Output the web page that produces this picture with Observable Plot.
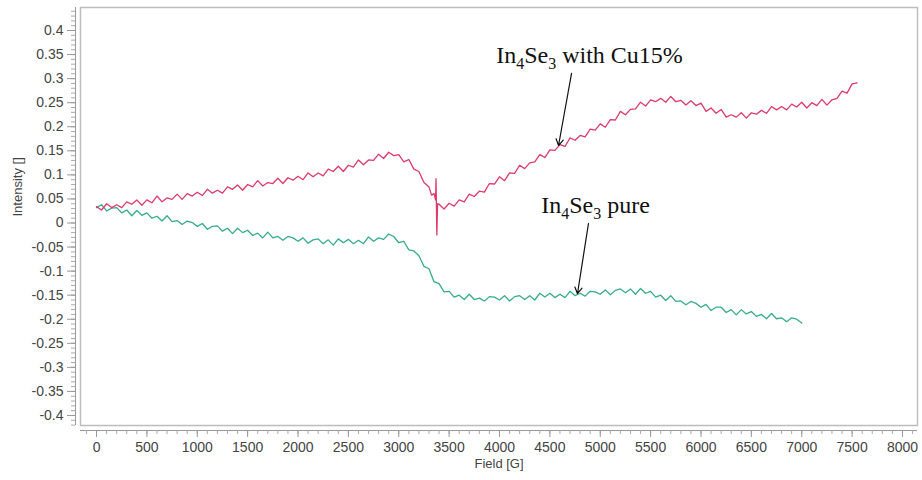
<!DOCTYPE html>
<html><head><meta charset="utf-8">
<script src="https://cdn.jsdelivr.net/npm/d3@7"></script>
<script src="https://cdn.jsdelivr.net/npm/@observablehq/plot@0.6"></script>
<style>body{margin:0;background:#fff}</style>
</head><body><div id="chart"></div>
<script>
// ---- data ----
const redField = d3.range(0, 3301, 50).concat([3325, 3350, 3365, 3370, 3378, 3385], d3.range(3400, 7551, 50));
const redIntensity = [
  .034,.027,.040,.032,.038,.032,.044,.039,.048,.037,
  .048,.042,.056,.044,.052,.049,.060,.049,.061,.056,
  .064,.057,.070,.062,.068,.062,.075,.070,.079,.068,
  .080,.075,.088,.077,.084,.082,.093,.082,.094,.089,
  .097,.090,.104,.096,.104,.098,.112,.107,.118,.107,
  .120,.116,.131,.121,.131,.130,.143,.134,.147,.140,
  .142,.127,.132,.112,.107,.084,.075,
  .058,.061,.048,.092,-.025,.040,
  .039,.029,.041,.035,.048,.044,.060,.055,.066,.064,
  .082,.081,.096,.088,.104,.103,.120,.113,.125,.127,
  .142,.136,.152,.151,.163,.159,.177,.172,.182,.179,
  .195,.193,.206,.199,.215,.214,.232,.225,.236,.237,
  .251,.243,.256,.252,.259,.251,.263,.252,.255,.245,
  .254,.244,.249,.232,.239,.228,.236,.220,.225,.220,
  .229,.218,.229,.226,.234,.228,.242,.235,.242,.235,
  .247,.241,.251,.239,.250,.244,.257,.245,.256,.259,
  .274,.270,.289,.291
];
const greenField = d3.range(0, 7001, 50);
const greenIntensity = [
  .032,.038,.025,.031,.032,.021,.027,.015,.026,.016,
  .021,.010,.014,.004,.015,.003,.005,-.003,.004,.001,
  -.007,-.001,-.013,-.007,-.006,-.017,-.011,-.022,-.011,-.020,
  -.015,-.026,-.021,-.031,-.019,-.031,-.028,-.036,-.028,-.031,
  -.038,-.031,-.042,-.035,-.033,-.043,-.035,-.046,-.033,-.041,
  -.034,-.043,-.036,-.043,-.029,-.038,-.031,-.034,-.023,-.028,
  -.041,-.038,-.056,-.058,-.068,-.090,-.095,-.122,-.126,-.143,
  -.142,-.154,-.150,-.159,-.148,-.159,-.156,-.162,-.153,-.154,
  -.160,-.151,-.162,-.153,-.151,-.159,-.151,-.160,-.146,-.154,
  -.146,-.155,-.148,-.155,-.142,-.151,-.146,-.152,-.142,-.143,
  -.148,-.139,-.149,-.140,-.137,-.145,-.137,-.148,-.136,-.146,
  -.142,-.154,-.150,-.161,-.151,-.163,-.162,-.170,-.163,-.167,
  -.175,-.169,-.182,-.175,-.175,-.186,-.180,-.191,-.180,-.189,
  -.184,-.194,-.190,-.199,-.188,-.199,-.197,-.205,-.197,-.200,
  -.208
];
const xTicks = [0,500,1000,1500,2000,2500,3000,3500,4000,4500,5000,5500,6000,6500,7000,7500,8000];
const yTicks = [-0.4,-0.35,-0.3,-0.25,-0.2,-0.15,-0.1,-0.05,0,0.05,0.1,0.15,0.2,0.25,0.3,0.35,0.4];
const xMinor = d3.range(-100, 8101, 100);
const yMinor = d3.range(-42, 45, 1).map(v => v / 100);

const labelText = ["In4Se3 with Cu15%", "In4Se3 pure"];
const labelField = [4893, 4953];
const labelIntensity = [0.348, 0.036];
const arrowField1 = [4715, 4883];
const arrowIntensity1 = [0.311, -0.001];
const arrowField2 = [4586, 4774];
const arrowIntensity2 = [0.161, -0.147];

const xDomain = [-159, 8149];
const yDomain = [-0.4208, 0.4478];

if (redField.length !== redIntensity.length) console.error("red length", redField.length, redIntensity.length);
if (greenField.length !== greenIntensity.length) console.error("green length", greenField.length, greenIntensity.length);

const redRows = redField.map((f, i) => ({field: f, intensity: redIntensity[i]}));
const greenRows = greenField.map((f, i) => ({field: f, intensity: greenIntensity[i]}));
const labels = labelText.map((t, i) => ({t, x: labelField[i], y: labelIntensity[i]}));
const arrows = arrowField1.map((x1, i) => ({x1, y1: arrowIntensity1[i], x2: arrowField2[i], y2: arrowIntensity2[i]}));

const fmtY = d => String(Math.round(d * 100) / 100);
const fmtX = d => String(d);

const plot = Plot.plot({
  width: 922,
  height: 480,
  marginLeft: 80,
  marginRight: 5,
  marginTop: 7,
  marginBottom: 55,
  style: {fontFamily: "'Liberation Sans', Arial, sans-serif", fontSize: "14px", background: "#fff"},
  x: {domain: xDomain, axis: null},
  y: {domain: yDomain, axis: null},
  marks: [
    Plot.frame({stroke: "#bdbdbd", strokeWidth: 1.5}),
    // y axis
    Plot.ruleX([xDomain[0]], {dx: -5, stroke: "#999"}),
    Plot.axisY({ticks: yMinor, tickSize: 4, text: null, dx: -5, stroke: "#aaa"}),
    Plot.axisY({ticks: yTicks, tickSize: 8, tickPadding: 4, dx: -5, tickFormat: fmtY, stroke: "#999", fill: "#444", fontSize: 14}),
    // x axis
    Plot.ruleY([yDomain[0]], {dy: 5, stroke: "#999"}),
    Plot.axisX({ticks: xMinor, tickSize: 4, text: null, dy: 5, stroke: "#aaa"}),
    Plot.axisX({ticks: xTicks, tickSize: 7, tickPadding: 5, dy: 5, tickFormat: fmtX, stroke: "#999", fill: "#444", fontSize: 14}),
    Plot.text(["Intensity []"], {frameAnchor: "left", rotate: -90, dx: -63, fill: "#444", fontSize: 13}),
    Plot.text(["Field [G]"], {frameAnchor: "bottom", dy: 42, fill: "#444", fontSize: 13}),
    // data
    Plot.line(greenRows, {x: "field", y: "intensity", stroke: "#36ae85", strokeWidth: 1.3}),
    Plot.line(redRows, {x: "field", y: "intensity", stroke: "#de3a6c", strokeWidth: 1.3}),
    // annotations
    Plot.arrow(arrows, {x1: "x1", y1: "y1", x2: "x2", y2: "y2", stroke: "#111", strokeWidth: 1.2, headLength: 9}),
    Plot.text(labels, {x: "x", y: "y", text: "t", fontFamily: "'Liberation Serif', 'Times New Roman', serif", fontSize: 24, fill: "#111"})
  ]
});

// chemical-formula subscripts as real tspans
d3.select(plot).selectAll("text").filter(function() {
  return labelText.includes(this.textContent);
}).each(function() {
  const txt = this.textContent;
  const sp = txt.indexOf(" ");
  const formula = txt.slice(0, sp);
  const rest = txt.slice(sp);
  const el = d3.select(this);
  el.text(null);
  const parts = formula.match(/[A-Za-z]+|\d+/g);
  let down = false;
  parts.forEach(p => {
    const isNum = /^\d+$/.test(p);
    const ts = el.append("tspan").text(p);
    if (isNum) { ts.attr("font-size", 16); if (!down) ts.attr("dy", 6); down = true; }
    else { if (down) ts.attr("dy", -6); down = false; }
  });
  const r = el.append("tspan").text(rest);
  if (down) r.attr("dy", -6);
});

document.getElementById("chart").appendChild(plot);
</script>
</body></html>
